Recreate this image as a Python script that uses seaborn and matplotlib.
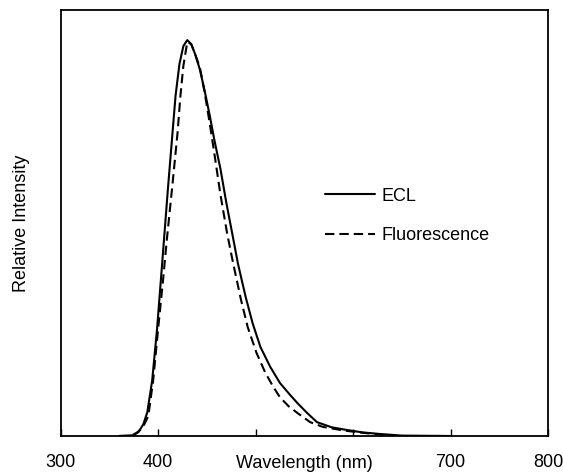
"""ECL vs fluorescence emission spectra, redrawn with seaborn."""
import numpy as np
import pandas as pd
import matplotlib
matplotlib.use('Agg')
import matplotlib.pyplot as plt
import seaborn as sns

# values (peak normalised to 1)
ecl_wl = [360, 375, 380, 385, 389, 394, 399, 405, 410, 414, 418, 422, 426, 430,
          434, 438, 443, 448, 453, 458, 464, 470, 477, 482, 490, 497, 505, 515,
          525, 535, 543, 553, 563, 578, 594, 610, 628, 650, 700]
ecl_int = [0.0, 0.002, 0.01, 0.03, 0.06, 0.14, 0.27, 0.46, 0.62, 0.74, 0.86, 0.94,
           0.985, 1.0, 0.99, 0.965, 0.925, 0.87, 0.81, 0.745, 0.675, 0.59, 0.5,
           0.435, 0.35, 0.285, 0.225, 0.175, 0.134, 0.105, 0.083, 0.058, 0.035,
           0.022, 0.015, 0.009, 0.005, 0.001, 0.0]

fl_wl = [360, 372, 378, 384, 390, 395, 400, 405, 409, 415, 420, 423, 426, 430,
         434, 438, 443, 448, 453, 458, 464, 471, 477, 485, 492, 501, 510, 518,
         525, 534, 543, 556, 569, 590, 610, 630, 645]
fl_int = [0.0, 0.0, 0.008, 0.02, 0.05, 0.14, 0.268, 0.39, 0.495, 0.64, 0.765, 0.86,
          0.935, 0.995, 0.99, 0.965, 0.93, 0.865, 0.79, 0.71, 0.61, 0.51, 0.437,
          0.345, 0.275, 0.21, 0.16, 0.125, 0.098, 0.075, 0.058, 0.035, 0.023,
          0.014, 0.008, 0.003, 0.0]

x_ticks = [300, 400, 500, 600, 700, 800]
x_ticklabels = ['300', '400', '', '', '700', '800']

df = pd.concat([
    pd.DataFrame({'wavelength': ecl_wl, 'intensity': ecl_int, 'series': 'ECL'}),
    pd.DataFrame({'wavelength': fl_wl, 'intensity': fl_int, 'series': 'Fluorescence'}),
], ignore_index=True)

sns.set_theme(style='ticks')
plt.rcParams['font.family'] = ['Liberation Sans', 'DejaVu Sans']
plt.rcParams['text.color'] = 'black'
plt.rcParams['axes.labelcolor'] = 'black'
plt.rcParams['xtick.color'] = 'black'

fig = plt.figure(figsize=(5.63, 4.72), dpi=100)
ax = fig.add_axes([0.1075, 0.0763, 0.8659, 0.9025])

sns.lineplot(data=df, x='wavelength', y='intensity', hue='series', style='series',
             palette={'ECL': 'black', 'Fluorescence': 'black'},
             dashes={'ECL': '', 'Fluorescence': (4.5, 2.4)},
             linewidth=1.5, sort=False, ax=ax)

ax.set_xlim(300, 800)
ax.set_ylim(0, 1.076)
ax.set_xticks(x_ticks)
ax.set_xticklabels(x_ticklabels, fontsize=13, color='black')
ax.set_yticks([])
ax.tick_params(axis='x', direction='in', length=5, width=1, pad=13)
for s in ax.spines.values():
    s.set_linewidth(1.3)
    s.set_color('black')

ax.set_xlabel('Wavelength (nm)', fontsize=13, color='black')
ax.xaxis.set_label_coords(0.5, -0.044)
ax.set_ylabel('Relative Intensity', fontsize=13, color='black')
ax.yaxis.set_label_coords(-0.062, 0.5)

leg = ax.legend(loc='upper left', bbox_to_anchor=(0.5426, 0.583), frameon=False,
                fontsize=13, handlelength=2.77, handletextpad=0.35, labelspacing=1.25,
                borderpad=0, borderaxespad=0)
for t in leg.get_texts():
    t.set_color('black')

plt.savefig('out.png', dpi=100)
plt.close(fig)
